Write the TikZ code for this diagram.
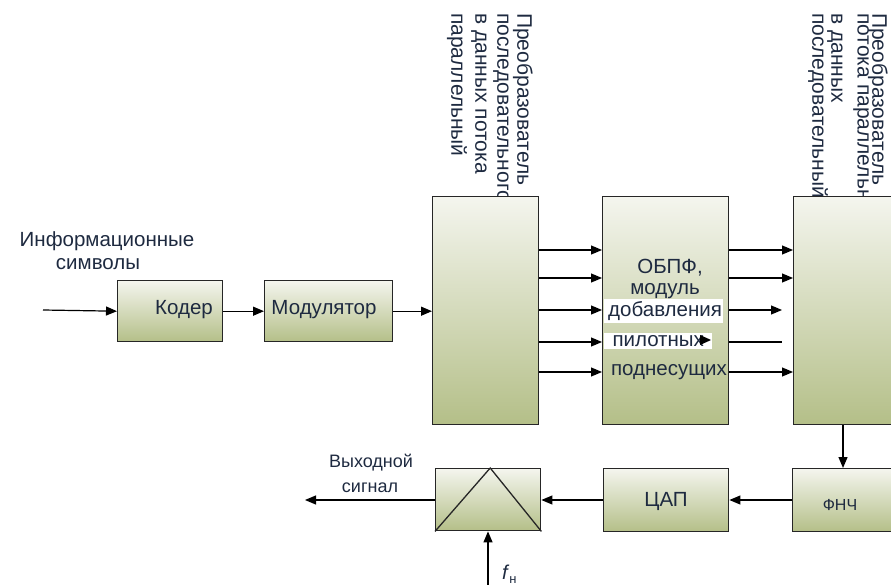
\documentclass[tikz,border=0pt]{standalone}
\usepackage{fontspec}
\setmainfont{Liberation Sans}
\usetikzlibrary{arrows.meta}
\definecolor{txt}{HTML}{1E2A40}
\definecolor{boxtop}{HTML}{F4F5EE}
\definecolor{boxbot}{HTML}{B4BF88}
\tikzset{
  blk/.style={draw=black!85, line width=1.4pt, top color=boxtop, bottom color=boxbot,
              inner sep=0pt, anchor=north west},
  arr/.style={line width=1.2pt, -{Triangle[length=11pt,width=9pt]}},
  plain/.style={line width=1.2pt},
  lbl/.style={text=txt, font=\fontsize{20.5}{23}\selectfont, inner sep=0pt},
  vlbl/.style={lbl, font=\fontsize{21}{23}\selectfont, rotate=-90, anchor=west},
  wlbl/.style={lbl, fill=white, inner xsep=1pt, inner ysep=2pt},
}
\begin{document}
\begin{tikzpicture}[x=1pt,y=1pt]
\useasboundingbox (0,0) rectangle (891,-585);
\clip (0,0) rectangle (891,-585);

% vertical captions of the converters (drawn first, the blocks cover their ends)
\node[vlbl] (sp1) at (523,-13) {Преобразователь};
\node[vlbl] (sp2) at (501,-13) {последовательного};
\node[vlbl] (sp3) at (479,-13) {в данных потока};
\node[vlbl] (sp4) at (457,-13) {параллельный};
\node[vlbl] (ps1) at (878,-13) {Преобразователь};
\node[vlbl] (ps2) at (861,-13) {потока параллельного};
\node[vlbl] (ps3) at (835,-13) {в данных};
\node[vlbl] (ps4) at (818,-13) {последовательный};

% blocks
\node[blk, minimum width=105pt, minimum height=61pt] (kod) at (117,-280) {};
\node[blk, minimum width=128pt, minimum height=61pt] (mod) at (264,-280) {};
\node[blk, minimum width=106pt, minimum height=228pt] (sp) at (432,-196) {};
\node[blk, minimum width=126pt, minimum height=228pt] (ofdm) at (602,-196) {};
\node[blk, minimum width=140pt, minimum height=228pt] (ps) at (793,-196) {};
\node[blk, minimum width=140pt, minimum height=63pt] (lpf) at (792,-468) {};
\node[blk, minimum width=125pt, minimum height=63pt] (dac) at (603,-468) {};
\node[blk, minimum width=105pt, minimum height=62pt] (mix) at (435,-468) {};
\draw[line width=1.3pt, black!85] (mix.south west) -- ([xshift=2pt]mix.north) -- (mix.south east);

% block texts
\node[lbl] (kodt) at (184,-310) {Кодер};
\node[lbl] (modt) at (324,-310) {Модулятор};
\node[lbl] (dact) at (666,-501) {ЦАП};
\node[lbl, font=\fontsize{16}{18}\selectfont] (lpft) at (840,-505) {ФНЧ};

% rows between the converters and the IFFT block
\coordinate (r1) at (0,-250);
\coordinate (r2) at (0,-278);
\coordinate (r3) at (0,-310);
\coordinate (r4) at (0,-342);
\coordinate (r5) at (0,-372);
\coordinate (e3) at (782,-310);
\coordinate (e4) at (782,-342);
\foreach \r in {r1,r2,r3,r4,r5}
  \draw[arr] (sp.east |- \r) -- (ofdm.west |- \r);
\foreach \r in {r1,r2,r5}
  \draw[arr] (ofdm.east |- \r) -- (ps.west |- \r);
\draw[arr] (ofdm.east |- r3) -- (e3);
\draw[plain] (ofdm.east |- r4) -- (e4);

\node[lbl] (o1) at (670,-268) {ОБПФ,};
\node[lbl] (o2) at (665,-291) {модуль};
\node[wlbl, minimum width=116pt, anchor=west] (o3) at (604,-311) {\hspace{3pt}добавления};
\node[wlbl, minimum width=108pt, anchor=west] (o4) at (604,-341) {пилотных\hfill};
\fill (700,-335) -- (711,-340) -- (700,-345) -- cycle;
\node[lbl] (o5) at (669,-372) {поднесущих};

% input chain
\coordinate (in) at (43,-310);
\draw[arr] (in) -- (kod.west);
\draw[arr] (kod.east) -- (mod.west);
\draw[arr] (mod.east) -- (sp.west |- mod.east);
\node[lbl] (info1) at (107,-241) {Информационные};
\node[lbl] (info2) at (98,-264) {символы};

% output chain
\coordinate (dn) at (843,0);
\draw[arr] (ps.south -| dn) -- (lpf.north -| dn);
\coordinate (r6) at (0,-500);
\draw[arr] (lpf.west |- r6) -- (dac.east |- r6);
\draw[arr] (dac.west |- r6) -- (mix.east |- r6);
\coordinate (out) at (305,-500);
\draw[arr] (mix.west |- r6) -- (out);
\node[lbl, font=\fontsize{18}{20}\selectfont] (y1) at (371,-463) {Выходной};
\node[lbl, font=\fontsize{18}{20}\selectfont] (y2) at (370,-488) {сигнал};
\coordinate (fn0) at (488,-590);
\draw[arr] (fn0) -- (mix.south -| fn0);
\node[lbl, font=\fontsize{20}{22}\selectfont, anchor=west] (fn) at (502,-574) {\textit{f}\raisebox{-0.4ex}{\fontsize{13}{13}\selectfont н}};
\end{tikzpicture}
\end{document}
